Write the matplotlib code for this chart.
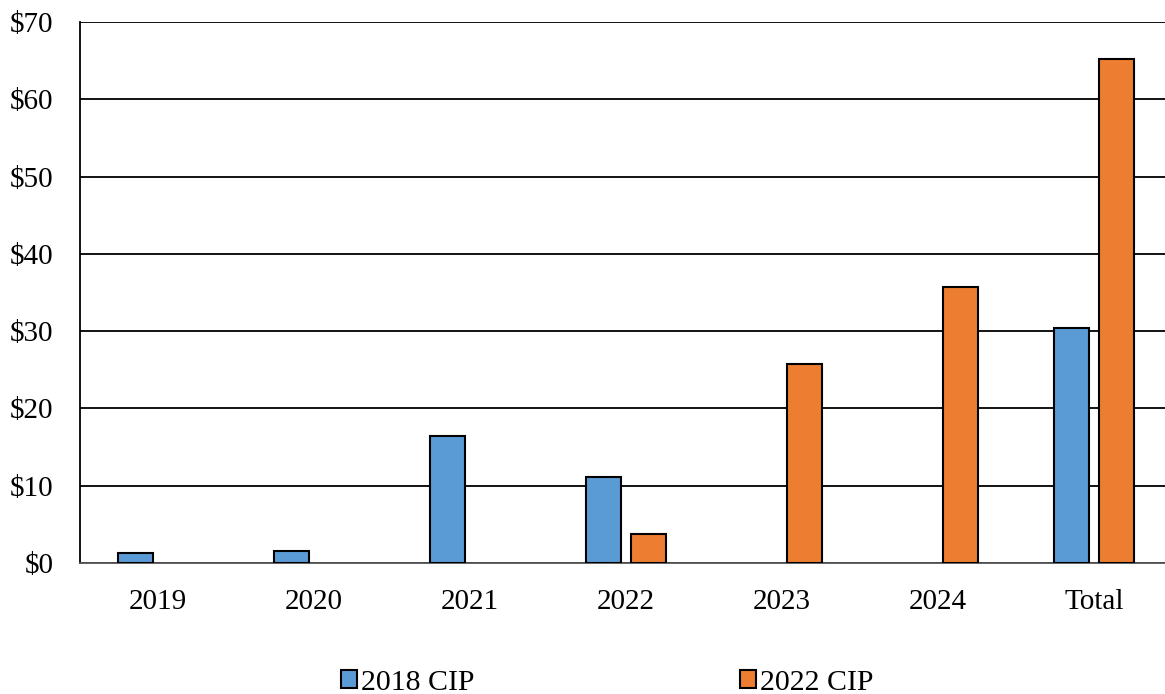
import matplotlib.pyplot as plt
import numpy as np

# data (millions of dollars)
categories = ['2019', '2020', '2021', '2022', '2023', '2024', 'Total']
cip_2018 = [1.3, 1.55, 16.4, 11.1, 0, 0, 30.35]
cip_2022 = [0, 0, 0, 3.75, 25.7, 35.7, 65.15]
series_names = ['2018 CIP', '2022 CIP']
colors = ['#5B9BD5', '#ED7D31']

plt.rcParams['font.family'] = ['Liberation Serif', 'DejaVu Serif']

fig = plt.figure(figsize=(11.65, 6.94), dpi=100)
ax = fig.add_axes([80/1165, 1 - 563/694, 1092/1165, 541/694])

x = np.arange(len(categories))
w = 0.225
off = 0.142
# skip zero values so no flat bar outlines appear
for vals, dx, col, name in [(cip_2018, -off, colors[0], series_names[0]),
                            (cip_2022, off, colors[1], series_names[1])]:
    vals = np.array(vals, dtype=float)
    mask = vals > 0
    ax.bar(x[mask] + dx, vals[mask], width=w, color=col, edgecolor='black',
           linewidth=1.5, zorder=3, label=name)

ax.set_xlim(-0.5, len(categories) - 0.5)
ax.set_ylim(0, 70)
ax.set_yticks(range(0, 80, 10))
ax.set_yticklabels(['$' + str(v) for v in range(0, 80, 10)])
ax.set_xticks(x)
ax.set_xticklabels(categories)
ax.tick_params(length=0, labelsize=21, colors='black')
ax.tick_params(axis='x', pad=19)
ax.tick_params(axis='y', pad=19)
ax.yaxis.grid(True, color='black', linewidth=1.3, zorder=0)
for s in ['top', 'right']:
    ax.spines[s].set_visible(False)
ax.spines['left'].set_linewidth(1.3)
ax.spines['bottom'].set_linewidth(1.3)
ax.spines['bottom'].set_color('#555555')

handles, labels = ax.get_legend_handles_labels()
fig.legend(handles, labels, loc='center', bbox_to_anchor=(0.521, 0.016), ncol=2,
           frameon=False, fontsize=21.5, handlelength=0.55, handleheight=0.55,
           handletextpad=0.12, columnspacing=8.9)

fig.savefig('out.png', dpi=100)
